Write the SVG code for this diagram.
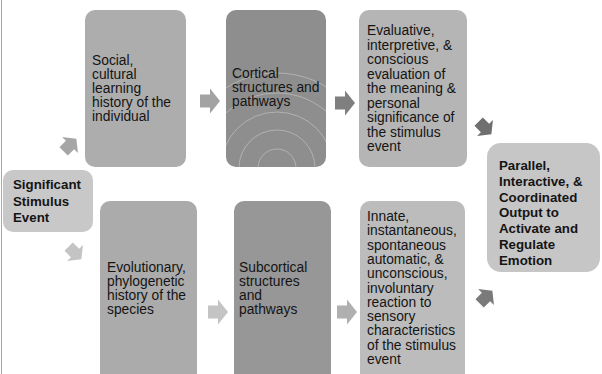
<svg xmlns="http://www.w3.org/2000/svg" width="602" height="374" viewBox="0 0 602 374">
<style>
.t{font-family:"Liberation Sans",Arial,sans-serif;font-size:13.8px;fill:#141414}
.b{font-family:"Liberation Sans",Arial,sans-serif;font-size:13.3px;font-weight:bold;fill:#141414}
.arc{fill:none;stroke:#ffffff;stroke-opacity:0.4;stroke-width:0.8}
</style>
<defs>
<path id="arr" d="M-10,-6.5 H0 V-12.5 L10,0 L0,12.5 V6.5 H-10 Z"/>
<clipPath id="cc"><rect x="226" y="10" width="100" height="157" rx="10"/></clipPath>
</defs>
<rect width="602" height="374" fill="#ffffff"/>
<line x1="1.5" y1="0" x2="1.5" y2="374" stroke="#a8a8a8" stroke-width="1"/>

<g id="connectors">
<use href="#arr" fill="#a6a6a6" transform="translate(70,145) rotate(-45) scale(0.9)"/>
<use href="#arr" fill="#a3a3a3" transform="translate(210,101)"/>
<use href="#arr" fill="#7f7f7f" transform="translate(345,103)"/>
<use href="#arr" fill="#6f6f6f" transform="translate(485,128) rotate(45) scale(0.9)"/>
<use href="#arr" fill="#c4c4c4" transform="translate(75,253) rotate(45) scale(0.9)"/>
<use href="#arr" fill="#c4c4c4" transform="translate(218,312)"/>
<use href="#arr" fill="#b0b0b0" transform="translate(347,312)"/>
<use href="#arr" fill="#7a7a7a" transform="translate(486,297) rotate(-45) scale(0.9)"/>
</g>

<g id="social">
<rect x="85" y="10" width="101" height="157" rx="10" fill="#adadad"/>
<text class="t" x="92" y="65">Social,<tspan x="92" dy="14">cultural</tspan><tspan x="92" dy="14">learning</tspan><tspan x="92" dy="14">history of the</tspan><tspan x="92" dy="14">individual</tspan></text>
</g>

<g id="cortical">
<rect x="226" y="10" width="100" height="157" rx="10" fill="#8e8e8e"/>
<g clip-path="url(#cc)">
<circle class="arc" cx="277" cy="168" r="19"/>
<circle class="arc" cx="277" cy="168" r="38"/>
<circle class="arc" cx="277" cy="168" r="56"/>
<circle class="arc" cx="277" cy="168" r="75"/>
<circle class="arc" cx="277" cy="168" r="95"/>
</g>
<text class="t" x="232" y="78">Cortical<tspan x="232" dy="14">structures and</tspan><tspan x="232" dy="14">pathways</tspan></text>
</g>

<g id="evaluative">
<rect x="359" y="10" width="108" height="157" rx="10" fill="#b5b5b5"/>
<text class="t" x="367" y="35">Evaluative,<tspan x="367" dy="14.5">interpretive, &amp;</tspan><tspan x="367" dy="14.5">conscious</tspan><tspan x="367" dy="14.5">evaluation of</tspan><tspan x="367" dy="14.5">the meaning &amp;</tspan><tspan x="367" dy="14.5">personal</tspan><tspan x="367" dy="14.5">significance of</tspan><tspan x="367" dy="14.5">the stimulus</tspan><tspan x="367" dy="14.5">event</tspan></text>
</g>

<g id="significant">
<rect x="3" y="170" width="90" height="62" rx="10" fill="#c8c8c8"/>
<text class="b" x="13" y="189">Significant<tspan x="13" dy="16.5">Stimulus</tspan><tspan x="13" dy="16.5">Event</tspan></text>
</g>

<g id="output">
<rect x="487" y="143" width="113" height="129" rx="14" fill="#c6c6c6"/>
<text class="b" x="499" y="170">Parallel,<tspan x="499" dy="15.8">Interactive, &amp;</tspan><tspan x="499" dy="15.8">Coordinated</tspan><tspan x="499" dy="15.8">Output to</tspan><tspan x="499" dy="15.8">Activate  and</tspan><tspan x="499" dy="15.8">Regulate</tspan><tspan x="499" dy="15.8">Emotion</tspan></text>
</g>

<g id="evolutionary">
<rect x="100" y="201" width="97" height="185" rx="10" fill="#ababab"/>
<text class="t" x="107" y="272">Evolutionary,<tspan x="107" dy="14">phylogenetic</tspan><tspan x="107" dy="14">history of the</tspan><tspan x="107" dy="14">species</tspan></text>
</g>

<g id="subcortical">
<rect x="234" y="201" width="97" height="185" rx="10" fill="#979797"/>
<text class="t" x="239" y="272">Subcortical<tspan x="239" dy="14">structures</tspan><tspan x="239" dy="14">and</tspan><tspan x="239" dy="14">pathways</tspan></text>
</g>

<g id="innate">
<rect x="360" y="201" width="105" height="185" rx="10" fill="#bcbcbc"/>
<text class="t" x="367" y="221">Innate,<tspan x="367" dy="14.3">instantaneous,</tspan><tspan x="367" dy="14.3">spontaneous</tspan><tspan x="367" dy="14.3">automatic, &amp;</tspan><tspan x="367" dy="14.3">unconscious,</tspan><tspan x="367" dy="14.3">involuntary</tspan><tspan x="367" dy="14.3">reaction to</tspan><tspan x="367" dy="14.3">sensory</tspan><tspan x="367" dy="14.3">characteristics</tspan><tspan x="367" dy="14.3">of the stimulus</tspan><tspan x="367" dy="14.3">event</tspan></text>
</g>
</svg>
